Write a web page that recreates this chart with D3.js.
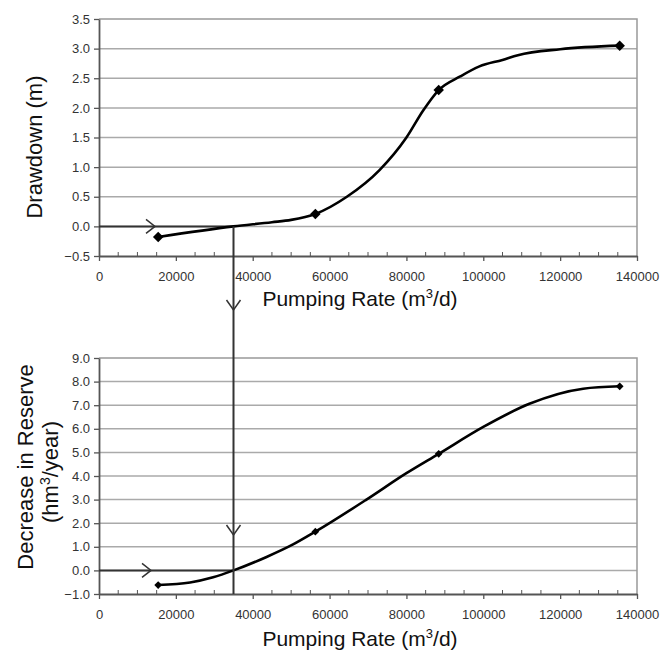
<!DOCTYPE html>
<html>
<head>
<meta charset="utf-8">
<script src="https://cdn.jsdelivr.net/npm/d3@7"></script>
<style>
  body { margin: 0; background: #fff; }
  text { font-family: "Liberation Sans", Arial, sans-serif; }
</style>
</head>
<body>
<svg id="chart" width="661" height="650"></svg>
<script>
// data
var pumpRate = [15400, 56300, 88400, 135500];
var drawdown = [-0.18, 0.21, 2.3, 3.05];
var reserve = [-0.62, 1.64, 4.94, 7.8];

// traced points of the drawn smooth curves
var drawdownCurveX = [15400, 35000, 45000, 50000, 56300, 64500, 73000, 80000, 84400, 88400, 94000, 99000, 105000, 109000, 120000, 135500];
var drawdownCurveY = [-0.18, 0.0, 0.07, 0.11, 0.21, 0.5, 0.95, 1.5, 1.96, 2.3, 2.53, 2.7, 2.81, 2.89, 2.99, 3.05];
var reserveCurveX = [15400, 23700, 29700, 35000, 43600, 50500, 56300, 69600, 80000, 88400, 100000, 112000, 126000, 135500];
var reserveCurveY = [-0.62, -0.51, -0.29, 0.0, 0.57, 1.1, 1.64, 3.0, 4.12, 4.94, 6.08, 7.06, 7.7, 7.8];

var xTicks = [0, 20000, 40000, 60000, 80000, 100000, 120000, 140000];
var drawdownTicks = [-0.5, 0, 0.5, 1, 1.5, 2, 2.5, 3, 3.5];
var reserveTicks = [-1, 0, 1, 2, 3, 4, 5, 6, 7, 8, 9];
var targetRate = 35000;

var svg = d3.select("#chart");
var left = 99, right = 637;

function drawPanel(o) {
  var x = d3.scaleLinear().domain([0, 140000]).range([left, right]);
  var y = d3.scaleLinear().domain([o.ticks[0], o.ticks[o.ticks.length - 1]]).range([o.bottom, o.top]);
  var g = svg.append("g");

  // grid
  g.selectAll(".grid").data(o.ticks.slice(1, -1)).enter().append("line")
    .attr("x1", left).attr("x2", right)
    .attr("y1", function(d) { return y(d); }).attr("y2", function(d) { return y(d); })
    .attr("stroke", "#aaa").attr("stroke-width", 1.5);

  // border top/right
  g.append("path")
    .attr("d", "M" + left + "," + o.top + "H" + right + "V" + o.bottom)
    .attr("fill", "none").attr("stroke", "#999").attr("stroke-width", 1.5);

  // minor ticks inside
  g.selectAll(".minor").data(d3.range(5000, 140000, 5000).filter(function(d) { return d % 20000 != 0; }))
    .enter().append("line")
    .attr("x1", function(d) { return x(d); }).attr("x2", function(d) { return x(d); })
    .attr("y1", o.bottom).attr("y2", o.bottom - 4)
    .attr("stroke", "#555").attr("stroke-width", 1);

  var xAxis = g.append("g").attr("transform", "translate(0," + o.bottom + ")")
    .call(d3.axisBottom(x).tickValues(xTicks).tickSize(5).tickSizeOuter(0).tickPadding(11).tickFormat(d3.format("d")));
  var yAxis = g.append("g").attr("transform", "translate(" + left + ",0)")
    .call(d3.axisLeft(y).tickValues(o.ticks).tickSize(5).tickSizeOuter(0).tickPadding(4).tickFormat(d3.format(".1f")));
  [xAxis, yAxis].forEach(function(a) {
    a.select(".domain").attr("stroke", "#555").attr("stroke-width", 1.8);
    a.selectAll(".tick line").attr("stroke", "#555").attr("stroke-width", 1.3);
    a.selectAll("text").attr("fill", "#333").style("font-size", "13px");
  });

  // guide arrows
  g.append("line")
    .attr("x1", left).attr("x2", x(targetRate))
    .attr("y1", y(0)).attr("y2", y(0))
    .attr("stroke", "#333").attr("stroke-width", 2);
  var ax = o.arrowX;
  g.append("path")
    .attr("d", "M" + (ax - 9) + "," + (y(0) - 7) + "L" + ax + "," + y(0) + "L" + (ax - 9) + "," + (y(0) + 7))
    .attr("fill", "none").attr("stroke", "#333").attr("stroke-width", 1.5);

  // curve
  var pts = o.cx.map(function(d, i) { return [d, o.cy[i]]; });
  var line = d3.line().x(function(d) { return x(d[0]); }).y(function(d) { return y(d[1]); })
    .curve(d3.curveMonotoneX);
  g.append("path").datum(pts).attr("d", line)
    .attr("fill", "none").attr("stroke", "#000").attr("stroke-width", 2.6);

  // markers (square turned 45 degrees)
  g.selectAll(".pt").data(pumpRate).enter().append("path")
    .attr("transform", function(d, i) { return "translate(" + x(d) + "," + y(o.vals[i]) + ") rotate(45)"; })
    .attr("d", d3.symbol().type(d3.symbolSquare).size(o.msize))
    .attr("fill", "#000");

  return { x: x, y: y };
}

var top1 = drawPanel({ top: 19, bottom: 256, ticks: drawdownTicks, vals: drawdown,
  cx: drawdownCurveX, cy: drawdownCurveY, arrowX: 155, msize: 55 });
var bot1 = drawPanel({ top: 358, bottom: 594, ticks: reserveTicks, vals: reserve,
  cx: reserveCurveX, cy: reserveCurveY, arrowX: 151, msize: 30 });

// vertical connector between the two panels
var vx = top1.x(targetRate);
svg.append("line")
  .attr("x1", vx).attr("x2", vx)
  .attr("y1", top1.y(0)).attr("y2", 594)
  .attr("stroke", "#333").attr("stroke-width", 2);
[310, 535].forEach(function(ay) {
  svg.append("path")
    .attr("d", "M" + (vx - 7) + "," + (ay - 10) + "L" + vx + "," + ay + "L" + (vx + 7) + "," + (ay - 10))
    .attr("fill", "none").attr("stroke", "#333").attr("stroke-width", 1.5);
});

// axis titles
function xTitle(yPos) {
  var t = svg.append("text").attr("x", 360).attr("y", yPos).attr("text-anchor", "middle")
    .style("font-size", "21px").attr("fill", "#111");
  t.append("tspan").text("Pumping Rate (m");
  t.append("tspan").attr("dy", -8).style("font-size", "13px").text("3");
  t.append("tspan").attr("dy", 8).text("/d)");
}
xTitle(306);
xTitle(646);

svg.append("text").attr("transform", "translate(42,147) rotate(-90)")
  .attr("text-anchor", "middle").style("font-size", "22px").attr("fill", "#111")
  .text("Drawdown (m)");

svg.append("text").attr("transform", "translate(33,467) rotate(-90)")
  .attr("text-anchor", "middle").style("font-size", "22px").attr("fill", "#111")
  .text("Decrease in Reserve");
var t2 = svg.append("text").attr("transform", "translate(58,472) rotate(-90)")
  .attr("text-anchor", "middle").style("font-size", "22px").attr("fill", "#111");
t2.append("tspan").text("(hm");
t2.append("tspan").attr("dy", -8).style("font-size", "14px").text("3");
t2.append("tspan").attr("dy", 8).text("/year)");
</script>
</body>
</html>
